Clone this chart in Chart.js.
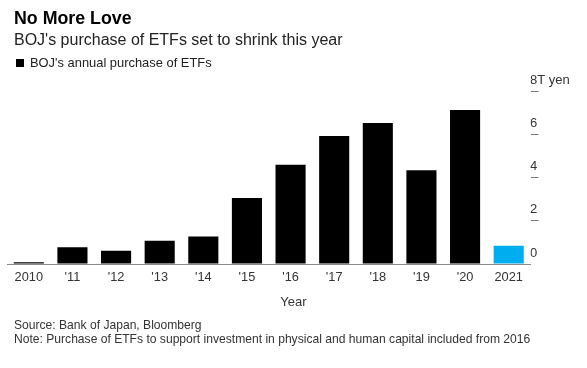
<!DOCTYPE html>
<html>
<head>
<meta charset="utf-8">
<script src="https://cdn.jsdelivr.net/npm/chart.js@4"></script>
<style>
  html, body { margin: 0; padding: 0; background: #fff; }
  body { width: 587px; height: 368px; position: relative; overflow: hidden;
         font-family: "Liberation Sans", Arial, Helvetica, sans-serif; color: #000; }
  #wrap { position: absolute; left: 0; top: 0; width: 587px; height: 368px; }
  .t { position: absolute; white-space: nowrap; }
  #title { left: 14px; top: 8px; font-size: 17.8px; font-weight: bold; }
  #subtitle { left: 14px; top: 31px; font-size: 16px; color: #222; }
  #legend { left: 16px; top: 55px; font-size: 12.9px; color: #222; }
  #legend span.sw { display: inline-block; width: 8px; height: 8px; background: #000; margin-right: 6px; vertical-align: 0px; }
  #xtitle { left: 0; width: 587px; text-align: center; top: 294px; font-size: 13px; color: #333; }
  #src { left: 14px; top: 318px; font-size: 12.1px; color: #333; line-height: 14px; }
</style>
</head>
<body>
<div id="wrap"><canvas id="c" width="587" height="368"></canvas></div>
<div class="t" id="title">No More Love</div>
<div class="t" id="subtitle">BOJ's purchase of ETFs set to shrink this year</div>
<div class="t" id="legend"><span class="sw"></span>BOJ's annual purchase of ETFs</div>
<div class="t" id="xtitle">Year</div>
<div class="t" id="src">Source: Bank of Japan, Bloomberg<br>Note: Purchase of ETFs to support investment in physical and human capital included from 2016</div>
<script>
// Data (trillion yen)
const years = ["2010", "'11", "'12", "'13", "'14", "'15", "'16", "'17", "'18", "'19", "'20", "2021"];
const purchases = [0.08, 0.78, 0.61, 1.08, 1.27, 3.05, 4.59, 5.92, 6.52, 4.34, 7.12, 0.84];
const barColors = ["#000", "#000", "#000", "#000", "#000", "#000", "#000", "#000", "#000", "#000", "#000", "#00aef0"];
const yTicks = [0, 2, 4, 6, 8];
const yUnit = "T yen";

new Chart(document.getElementById('c'), {
  type: 'bar',
  data: {
    labels: years,
    datasets: [{
      label: "BOJ's annual purchase of ETFs",
      data: purchases,
      backgroundColor: barColors,
      borderWidth: 0,
      barPercentage: 0.69,
      categoryPercentage: 1.0
    }]
  },
  options: {
    responsive: false,
    animation: false,
    devicePixelRatio: 1,
    layout: { padding: { left: 7, top: 91, right: 0, bottom: 0 } },
    plugins: { legend: { display: false }, tooltip: { enabled: false } },
    scales: {
      x: {
        grid: { display: false, drawTicks: false },
        border: { display: true, color: '#8a8a8a', width: 1 },
        ticks: {
          color: '#333', autoSkip: false, maxRotation: 0, padding: 6,
          font: { family: '"Liberation Sans", Arial, sans-serif', size: 12.8 }
        },
        afterFit: s => { s.height = 104; }
      },
      y: {
        position: 'right',
        min: 0, max: 8,
        afterBuildTicks: s => { s.ticks = yTicks.map(v => ({ value: v })); },
        grid: {
          drawOnChartArea: false, drawTicks: true, tickLength: 8,
          tickColor: ctx => (ctx.tick && ctx.tick.value === 0) ? 'rgba(0,0,0,0)' : '#777',
          lineWidth: 1
        },
        border: { display: false },
        ticks: {
          color: '#333', padding: -8.5, labelOffset: -11,
          font: { family: '"Liberation Sans", Arial, sans-serif', size: 13 },
          callback: v => v === 8 ? v + yUnit : String(v)
        },
        afterFit: s => { s.width = 56.5; }
      }
    }
  }
});
</script>
</body>
</html>
